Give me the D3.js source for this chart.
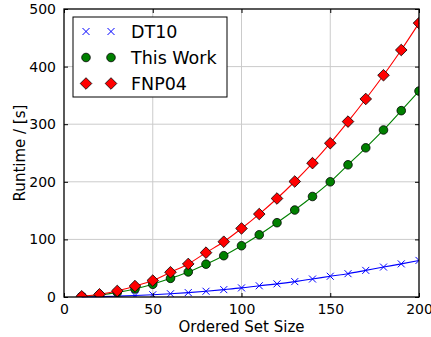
<!DOCTYPE html>
<html>
<head>
<meta charset="utf-8">
<script src="https://cdn.jsdelivr.net/npm/d3@7"></script>
<style>
  body{margin:0;background:#fff}
  text{font-family:"DejaVu Sans",sans-serif;fill:#000}
</style>
</head>
<body>
<script>
// data
var sizes=[10,20,30,40,50,60,70,80,90,100,110,120,130,140,150,160,170,180,190,200]
var dt10=[0.2,0.6,1.4,2.5,3.9,5.6,7.6,10,12.8,15.8,19.5,22.8,26.7,31.2,36,40.5,46.2,52,57.5,63.5]
var thisWork=[0.9,3.6,8,14,22,32.4,43.5,57,71.7,89,108,129,151,174.5,200,229.5,259,290,323.5,357.5]
var fnp04=[1.2,4.7,10.5,19,28.5,43,57.4,77,96,119,144,171,200.5,232.4,267,304.5,343.8,385,428.8,475.5]
var xTicks=[0,50,100,150,200]
var yTicks=[0,100,200,300,400,500]
var seriesNames=["DT10","This Work","FNP04"]

var screen={width:431,height:337}
var margins={top:9,right:12,bottom:40,left:64}
var width=screen.width-margins.left-margins.right
var height=screen.height-margins.top-margins.bottom

var xScale=d3.scaleLinear().domain([0,200]).range([0,width])
var yScale=d3.scaleLinear().domain([0,500]).range([height,0])

var svg=d3.select("body").append("svg")
          .attr("width",screen.width)
          .attr("height",screen.height)
var plot=svg.append("g")
            .attr("transform","translate("+margins.left+","+margins.top+")")

//grid
plot.append("g").selectAll("line").data(xTicks.slice(1,-1)).enter().append("line")
    .attr("x1",function(d){return xScale(d)}).attr("x2",function(d){return xScale(d)})
    .attr("y1",0).attr("y2",height)
    .style("stroke","#cbcbcb").style("stroke-width",1)
plot.append("g").selectAll("line").data(yTicks.slice(1,-1)).enter().append("line")
    .attr("y1",function(d){return yScale(d)}).attr("y2",function(d){return yScale(d)})
    .attr("x1",0).attr("x2",width)
    .style("stroke","#cbcbcb").style("stroke-width",1)

//lines
var series=[
  {name:seriesNames[0],values:dt10,color:"#0000ff",marker:"x"},
  {name:seriesNames[1],values:thisWork,color:"#008000",marker:"o"},
  {name:seriesNames[2],values:fnp04,color:"#ff0000",marker:"d"}
]
var line=d3.line()
           .x(function(d,i){return xScale(sizes[i])})
           .y(function(d){return yScale(d)})
           .curve(d3.curveMonotoneX)

var drawMarker=function(g,s){
  if(s.marker=="x"){
    g.append("path").attr("d","M-3.5,-3.5L3.5,3.5M-3.5,3.5L3.5,-3.5")
     .style("stroke",s.color).style("stroke-width",1).style("fill","none")
  }else if(s.marker=="o"){
    g.append("circle").attr("r",4.3)
     .style("fill",s.color).style("stroke","#000").style("stroke-width",0.8)
  }else{
    g.append("path").attr("d","M0,-5.8L5.8,0L0,5.8L-5.8,0Z")
     .style("fill",s.color).style("stroke","#000").style("stroke-width",0.8)
  }
}

var clip=svg.append("clipPath").attr("id","clip").append("rect")
            .attr("x",-8).attr("y",-8).attr("width",width+8).attr("height",height+8)

series.forEach(function(s){
  plot.append("path").datum(s.values)
      .attr("d",line)
      .style("fill","none").style("stroke",s.color).style("stroke-width",1.1)
  plot.append("g").attr("clip-path","url(#clip)")
      .selectAll("g").data(s.values).enter().append("g")
      .attr("transform",function(d,i){return "translate("+xScale(sizes[i])+","+yScale(d)+")"})
      .each(function(){drawMarker(d3.select(this),s)})
})

//axes: ticks inward on all four sides
var xAxis=d3.axisBottom(xScale).tickValues(xTicks).tickSizeInner(-4).tickSizeOuter(0).tickPadding(7)
var yAxis=d3.axisLeft(yScale).tickValues(yTicks).tickSizeInner(-4).tickSizeOuter(0).tickPadding(8)
var gx=plot.append("g").attr("transform","translate(0,"+height+")").call(xAxis)
var gy=plot.append("g").call(yAxis)
plot.append("g").call(d3.axisTop(xScale).tickValues(xTicks).tickSizeInner(-4).tickSizeOuter(0).tickFormat(""))
plot.append("g").attr("transform","translate("+width+",0)")
    .call(d3.axisRight(yScale).tickValues(yTicks).tickSizeInner(-4).tickSizeOuter(0).tickFormat(""))
svg.selectAll(".tick text").style("font-size","14px").style("font-family","DejaVu Sans")
svg.selectAll(".domain").remove()
svg.selectAll(".tick line").style("stroke","#000")
plot.append("rect").attr("width",width).attr("height",height)
    .style("fill","none").style("stroke","#000").style("stroke-width",1.3)

//labels
svg.append("text").attr("x",margins.left+width/2).attr("y",332)
   .attr("text-anchor","middle").style("font-size","15px").text("Ordered Set Size")
svg.append("text").attr("transform","translate(25,"+(margins.top+height/2)+") rotate(-90)")
   .attr("text-anchor","middle").style("font-size","15px").text("Runtime / [s]")

//legend
var legend=svg.append("g").attr("transform","translate(73,17)")
legend.append("rect").attr("width",154).attr("height",80)
      .style("fill","#fff").style("stroke","#000").style("stroke-width",1)
series.forEach(function(s,i){
  var y=14.5+i*26
  ;[13,38].forEach(function(x){
    var g=legend.append("g").attr("transform","translate("+x+","+y+")")
    drawMarker(g,s)
  })
  legend.append("text").attr("x",58).attr("y",y+6.5).style("font-size","17.5px").text(s.name)
})
</script>
</body>
</html>
